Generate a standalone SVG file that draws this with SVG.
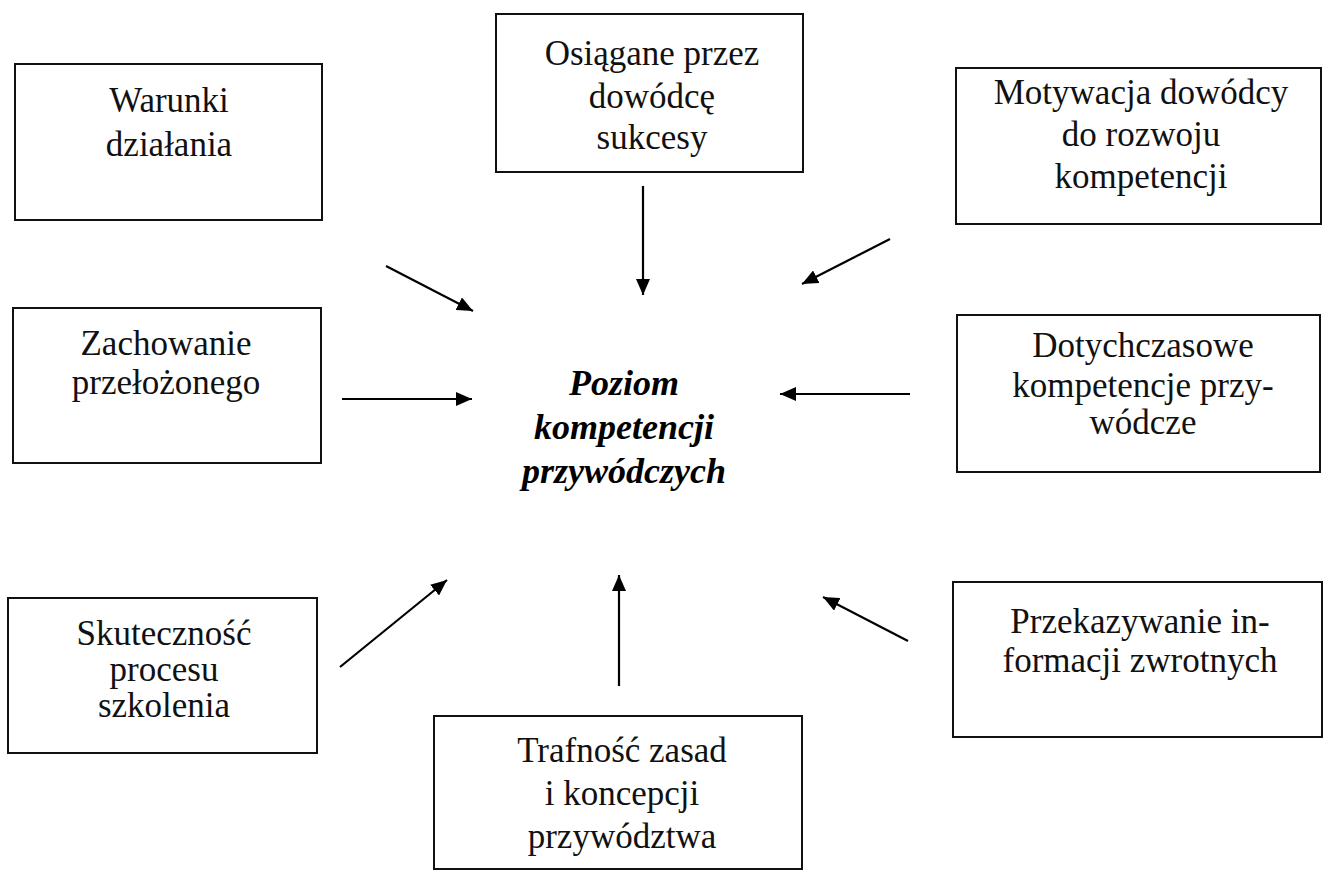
<svg xmlns="http://www.w3.org/2000/svg" width="1328" height="871" viewBox="0 0 1328 871">
<style>
.box{fill:#fff;stroke:#111;stroke-width:2}
.t{font-family:"Liberation Serif","Times New Roman",serif;font-size:35px;fill:#111;text-anchor:middle}
.c{font-family:"Liberation Serif","Times New Roman",serif;font-size:36px;font-weight:bold;font-style:italic;fill:#000;text-anchor:middle}
.a{stroke:#000;stroke-width:2.2;fill:none;marker-end:url(#ah)}
</style>
<defs>
<marker id="ah" markerUnits="userSpaceOnUse" markerWidth="18" markerHeight="14" refX="16" refY="7" orient="auto">
<path d="M0,0 L16,7 L0,14 Z" fill="#000"/>
</marker>
</defs>
<rect width="1328" height="871" fill="#fff"/>
<g id="warunki">
<rect class="box" x="15" y="64" width="307" height="156"/>
<text class="t" x="169" y="112">Warunki</text>
<text class="t" x="169" y="156">działania</text>
</g>
<g id="osiagane">
<rect class="box" x="496" y="14" width="307" height="158"/>
<text class="t" x="652" y="65">Osiągane przez</text>
<text class="t" x="652" y="108">dowódcę</text>
<text class="t" x="652" y="149">sukcesy</text>
</g>
<g id="motywacja">
<rect class="box" x="956" y="68" width="365" height="156"/>
<text class="t" x="1141" y="104">Motywacja dowódcy</text>
<text class="t" x="1141" y="146">do rozwoju</text>
<text class="t" x="1141" y="188">kompetencji</text>
</g>
<g id="zachowanie">
<rect class="box" x="13" y="308" width="308" height="155"/>
<text class="t" x="166" y="355">Zachowanie</text>
<text class="t" x="166" y="394">przełożonego</text>
</g>
<g id="dotychczasowe">
<rect class="box" x="957" y="315" width="363" height="157"/>
<text class="t" x="1143" y="357">Dotychczasowe</text>
<text class="t" x="1143" y="397">kompetencje przy-</text>
<text class="t" x="1143" y="434">wódcze</text>
</g>
<g id="skutecznosc">
<rect class="box" x="8" y="598" width="309" height="155"/>
<text class="t" x="164" y="645">Skuteczność</text>
<text class="t" x="164" y="681">procesu</text>
<text class="t" x="164" y="717">szkolenia</text>
</g>
<g id="trafnosc">
<rect class="box" x="434" y="716" width="368" height="153"/>
<text class="t" x="622" y="762">Trafność zasad</text>
<text class="t" x="622" y="805">i koncepcji</text>
<text class="t" x="622" y="848">przywództwa</text>
</g>
<g id="przekazywanie">
<rect class="box" x="953" y="582" width="369" height="155"/>
<text class="t" x="1140" y="633">Przekazywanie in-</text>
<text class="t" x="1140" y="672">formacji zwrotnych</text>
</g>
<g id="poziom">
<text class="c" x="624" y="395">Poziom</text>
<text class="c" x="624" y="439">kompetencji</text>
<text class="c" x="624" y="483">przywódczych</text>
</g>
<g id="connectors">
<line class="a" x1="643" y1="186" x2="643" y2="295"/>
<line class="a" x1="386" y1="266" x2="473" y2="311"/>
<line class="a" x1="890" y1="239" x2="802" y2="284"/>
<line class="a" x1="342" y1="399" x2="472" y2="399"/>
<line class="a" x1="910" y1="394" x2="780" y2="394"/>
<line class="a" x1="340" y1="667" x2="447" y2="580"/>
<line class="a" x1="619" y1="686" x2="619" y2="575"/>
<line class="a" x1="908" y1="641" x2="823" y2="597"/>
</g>
</svg>
